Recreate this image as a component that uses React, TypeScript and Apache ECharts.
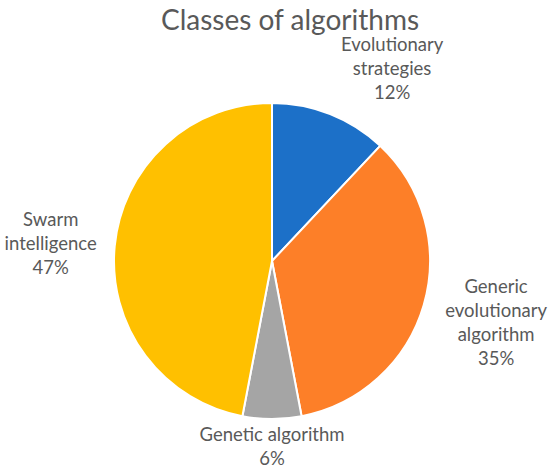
import React, { useEffect, useRef } from "react";
import * as echarts from "echarts";

const categories = [
  "Evolutionary strategies",
  "Generic evolutionary algorithm",
  "Genetic algorithm",
  "Swarm intelligence",
];
const labelTexts = [
  "Evolutionary\nstrategies",
  "Generic\nevolutionary\nalgorithm",
  "Genetic algorithm",
  "Swarm\nintelligence",
];
const values = [12, 35, 6, 47];
const colors = ["#1C70C8", "#FD7F28", "#A5A5A5", "#FFC000"];

// layout constants
const CX = 272;
const CY = 261;
const R = 158;
const GAP = 10;
// small label nudges (best-fit style collision avoidance)
const labelNudge: [number, number][] = [
  [39, 12],
  [3, -3],
  [0, -7],
  [-5, 2],
];

export default function App() {
  const ref = useRef<HTMLDivElement>(null);
  useEffect(() => {
    document.body.style.margin = "0";
    const chart = echarts.init(ref.current!, undefined, { renderer: "svg" });
    const total = values.reduce((a, b) => a + b, 0);
    chart.setOption({
      animation: false,
      backgroundColor: "#ffffff",
      title: {
        text: "Classes of algorithms",
        left: 285,
        top: 0,
        textAlign: "center",
        textStyle: {
          fontFamily: "Lato",
          fontSize: 28,
          fontWeight: "normal",
          color: "#595959",
        },
      },
      series: [
        {
          type: "pie",
          center: [CX, CY],
          radius: R,
          startAngle: 90,
          clockwise: true,
          itemStyle: { borderColor: "#ffffff", borderWidth: 2 },
          label: {
            show: true,
            position: "outside",
            overflow: "none",
            fontFamily: "Lato",
            fontSize: 18.5,
            lineHeight: 24,
            color: "#595959",
            formatter: (p: any) => `${labelTexts[p.dataIndex]}\n${Math.round(p.percent)}%`,
          },
          labelLine: { show: false },
          labelLayout: (params: any) => {
            const i = params.dataIndex;
            let before = 0;
            for (let k = 0; k < i; k++) before += values[k];
            const frac = (before + values[i] / 2) / total;
            const ang = frac * Math.PI * 2;
            const ux = Math.sin(ang);
            const uy = -Math.cos(ang);
            const w = params.labelRect.width;
            const h = params.labelRect.height;
            const ext = (Math.abs(ux) * w) / 2 + (Math.abs(uy) * h) / 2;
            const d = R + GAP + ext;
            return {
              x: CX + ux * d + labelNudge[i][0],
              y: CY + uy * d + labelNudge[i][1],
              align: "center",
              verticalAlign: "middle",
            };
          },
          data: categories.map((name, i) => ({
            name,
            value: values[i],
            itemStyle: { color: colors[i] },
          })),
        },
      ],
    });
    return () => chart.dispose();
  }, []);
  return <div ref={ref} style={{ width: 550, height: 471 }} />;
}
